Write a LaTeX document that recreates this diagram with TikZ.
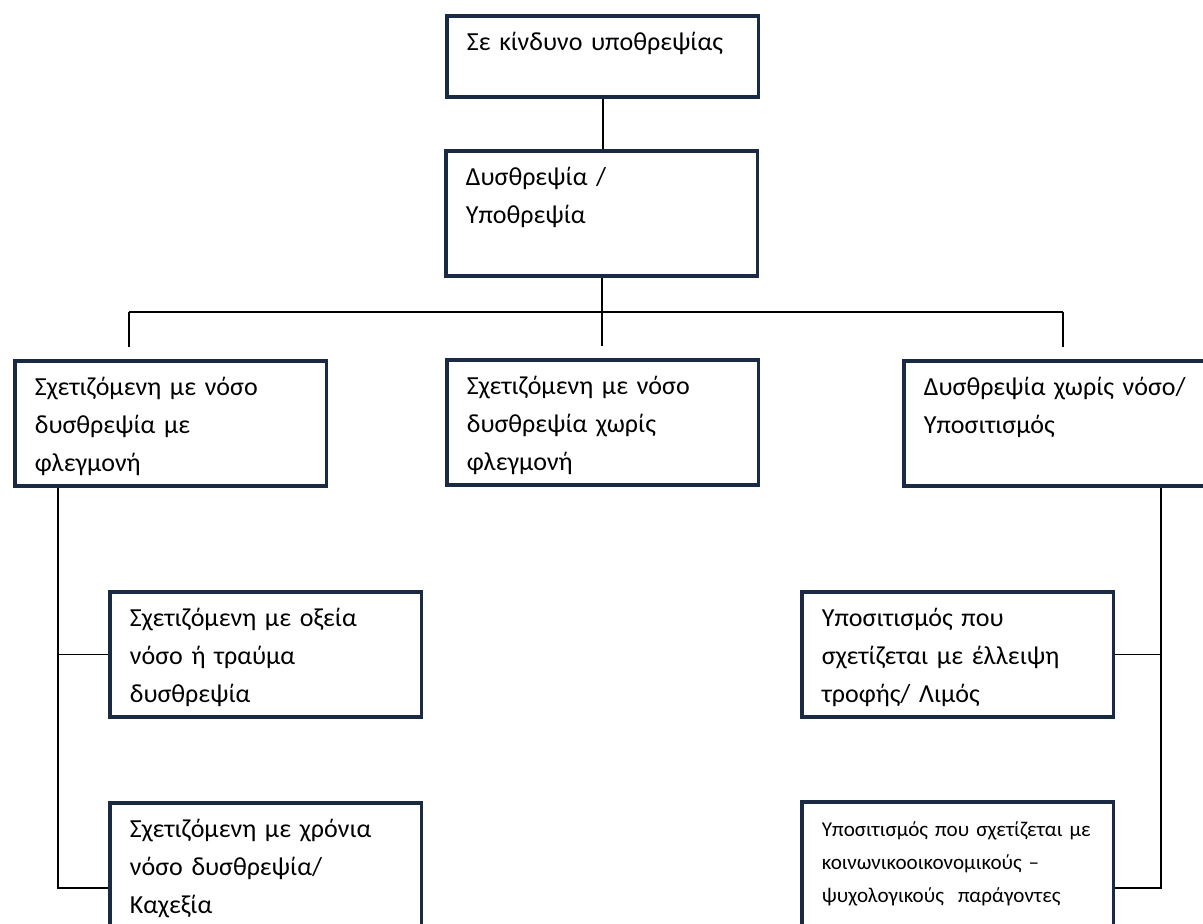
\documentclass[tikz,border=0pt]{standalone}
\usepackage{fontspec}
\setmainfont{Carlito}
\definecolor{boxnavy}{HTML}{1B2A44}

\begin{document}
\begin{tikzpicture}[x=0.025cm, y=-0.025cm,
		box/.style={draw=boxnavy, line width=0.095cm, fill=white, anchor=north west, inner xsep=0.5cm, inner ysep=0pt,
			minimum width=7.79cm, text width=6.79cm, align=left, text height=0.875cm, text depth=2.25cm,
			font=\fontsize{18.5}{27}\selectfont},
		link/.style={draw=black, line width=0.045cm}]
			\useasboundingbox (0,0) rectangle (1203,924);
			\clip (0,0) rectangle (1203,924);
			\node[box, text depth=1.15cm] (risk) at (445,14) {Σε κίνδυνο υποθρεψίας};
			\node[box] (dys) at (444,149) {Δυσθρεψία /\\Υποθρεψία};
			\node[box] (inflam) at (13,359) {Σχετιζόμενη με νόσο\\δυσθρεψία με\\φλεγμονή};
			\node[box] (noinflam) at (445,358) {Σχετιζόμενη με νόσο\\δυσθρεψία χωρίς\\φλεγμονή};
			\node[box] (nodis) at (902,359) {Δυσθρεψία χωρίς νόσο/\\Υποσιτισμός};
			\node[box] (acute) at (108,590) {Σχετιζόμενη με οξεία\\νόσο ή τραύμα\\δυσθρεψία};
			\node[box, text depth=3.375cm] (chronic) at (108,801) {Σχετιζόμενη με χρόνια\\νόσο δυσθρεψία/\\Καχεξία};
			\node[box] (famine) at (800,590) {Υποσιτισμός που\\σχετίζεται με έλλειψη\\τροφής/ Λιμός};
			\node[box, text depth=3.425cm, font=\fontsize{15}{23.4}\selectfont] (socio) at (800,800)
				{Υποσιτισμός που σχετίζεται με\\κοινωνικοοικονομικούς –\\ψυχολογικούς\ \ παράγοντες};

			\coordinate (busL) at (129,312);
			\coordinate (busR) at (1063,312);
			\coordinate (spineL) at ([xshift=1.125cm]inflam.south west);
			\coordinate (spineR) at ([xshift=6.475cm]nodis.south west);

			\draw[link] (risk.south) -- (risk.south |- dys.north);
			\draw[link, shorten >=0.3cm] (dys.south) -- (dys.south |- noinflam.north);
			\draw[link] (busL) -- (busR);
			\draw[link, shorten >=0.3cm] (busL) -- (busL |- inflam.north);
			\draw[link, shorten >=0.3cm] (busR) -- (busR |- nodis.north);
			\draw[link] (spineL) |- (chronic.west);
			\draw[link] (acute.west) -- (acute.west -| spineL);
			\draw[link] (spineR) |- (socio.east);
			\draw[link] (famine.east) -- (famine.east -| spineR);
\end{tikzpicture}
\end{document}
